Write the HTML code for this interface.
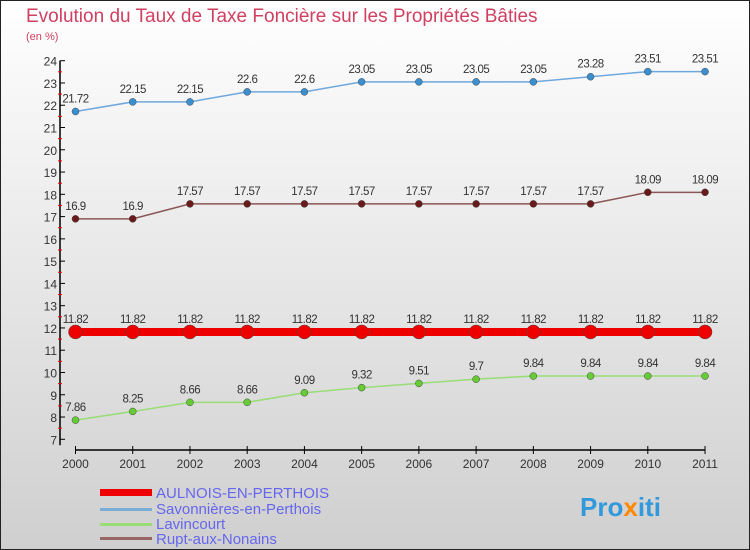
<!DOCTYPE html>
<html><head><meta charset="utf-8"><style>
body{margin:0}
#c{width:750px;height:550px;position:relative;overflow:hidden;font-family:"Liberation Sans",sans-serif}
</style></head><body>
<div id="c">
<svg id="s" width="750" height="550" xmlns="http://www.w3.org/2000/svg">
<defs><linearGradient id="bg" x1="0" y1="0" x2="0" y2="1"><stop offset="0" stop-color="#ffffff"/><stop offset="1" stop-color="#cfcfcf"/></linearGradient></defs>
<rect x="0.5" y="0.5" width="749" height="549" fill="url(#bg)" stroke="#222"/>
<text x="26" y="22" font-size="19" fill="#d04060">Evolution du Taux de Taxe Foncière sur les Propriétés Bâties</text>
<text x="26" y="40" font-size="11" fill="#d04060">(en %)</text>
<g id="axes"></g><g id="series"></g>
<g>
<rect x="100" y="489" width="52" height="7" fill="#ee0000"/>
<text x="156" y="498" font-size="15" fill="#6666ee">AULNOIS-EN-PERTHOIS</text>
<rect x="100" y="508" width="52" height="3" fill="#7aaed6"/>
<text x="156" y="514" font-size="15" fill="#6666ee">Savonnières-en-Perthois</text>
<rect x="100" y="523" width="52" height="3" fill="#99dd77"/>
<text x="156" y="529" font-size="15" fill="#6666ee">Lavincourt</text>
<rect x="100" y="537" width="52" height="3" fill="#996666"/>
<text x="156" y="544" font-size="15" fill="#6666ee">Rupt-aux-Nonains</text>
</g>
<text x="580" y="516" font-size="26" font-weight="bold" fill="#3399dd">Pro<tspan fill="#ff8800">x</tspan>iti</text>
</svg>
</div>
<script>
const years=[2000,2001,2002,2003,2004,2005,2006,2007,2008,2009,2010,2011];
const yTicks=[7,8,9,10,11,12,13,14,15,16,17,18,19,20,21,22,23,24];
const savonnieres=[21.72,22.15,22.15,22.6,22.6,23.05,23.05,23.05,23.05,23.28,23.51,23.51];
const rupt=[16.9,16.9,17.57,17.57,17.57,17.57,17.57,17.57,17.57,17.57,18.09,18.09];
const aulnois=[11.82,11.82,11.82,11.82,11.82,11.82,11.82,11.82,11.82,11.82,11.82,11.82];
const lavincourt=[7.86,8.25,8.66,8.66,9.09,9.32,9.51,9.7,9.84,9.84,9.84,9.84];
const NS="http://www.w3.org/2000/svg";
const X=i=>75.5+i*57.23;
const Y=v=>439.3-(v-7)*(378.6/17);
function mk(t,a,p){const e=document.createElementNS(NS,t);for(const k in a)e.setAttribute(k,a[k]);p.appendChild(e);return e;}
const ax=document.getElementById('axes');
let l=mk('line',{x1:60,y1:Y(24),x2:60,y2:Y(7)+6,stroke:'#000','stroke-width':1.5},ax);


yTicks.forEach(v=>{
 mk('line',{x1:60,y1:Y(v),x2:65,y2:Y(v),stroke:'#000'},ax);
 if(v<24)mk('line',{x1:58,y1:Y(v+0.5),x2:62,y2:Y(v+0.5),stroke:'#e00'},ax);
 const t=mk('text',{x:57,y:Y(v)+5,'font-size':12,'text-anchor':'end',fill:'#333'},ax);t.textContent=v;
 
 
});
l=mk('line',{x1:X(0),y1:450,x2:X(11),y2:450,stroke:'#000','stroke-width':1.5},ax);


years.forEach((y,i)=>{
 mk('line',{x1:X(i),y1:446,x2:X(i),y2:454,stroke:'#000'},ax);
 const t=mk('text',{x:X(i),y:468,'font-size':12,'text-anchor':'middle',fill:'#333'},ax);t.textContent=y;
 
 
});
const sg=document.getElementById('series');
function series(d,name,col,dot,w,r){
 const g=mk('g',{},sg);
 
 
 const p=mk('polyline',{points:d.map((v,i)=>X(i)+','+Y(v)).join(' '),fill:'none',stroke:col,'stroke-width':w},g);
 
 
 d.forEach((v,i)=>{
  const c=mk('circle',{cx:X(i),cy:Y(v),r:r,fill:dot,stroke:'#444','stroke-width':0.5},g);
  
  
  const t=mk('text',{x:X(i),y:Y(v)-9,'font-size':11.5,'text-anchor':'middle',fill:'#333','letter-spacing':'-0.5'},g);
  t.textContent=v;
  
  
 });
}
series(savonnieres,'savonnieres','#6fa8dc','#3a8fd0',1.5,3.5);
series(rupt,'rupt','#8a5555','#6a1a1a',1.5,3.5);
series(lavincourt,'lavincourt','#99dd77','#66cc33',1.5,3.5);
series(aulnois,'aulnois','#ee0000','#ee0000',8,7);
</script>
</body></html>
